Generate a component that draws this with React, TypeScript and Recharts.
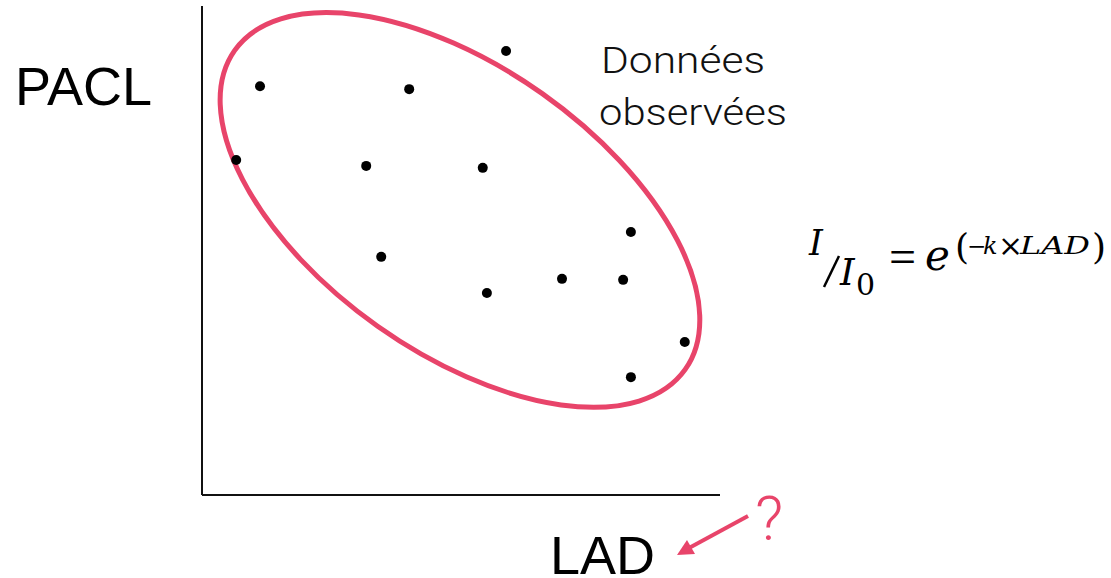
import React from 'react';
import { ScatterChart, Scatter, XAxis, YAxis, ReferenceDot, ReferenceLine } from 'recharts';

// observed points (LAD on x, PACL on y), arbitrary 0-100 units
const ladValues = [11.2, 40.0, 58.7, 6.6, 31.7, 54.2, 82.8, 34.6, 55.0, 69.5, 81.3, 93.2, 82.8];
const paclValues = [83.6, 83.0, 90.8, 68.5, 67.3, 66.9, 53.8, 48.7, 41.3, 44.2, 44.0, 31.3, 24.1];

// centre of the ellipse around the observed cloud
const cloudCenter = { x: 49.8, y: 58.3 };

const PINK = '#e8446a';
const MATH = 'DejaVu Serif, serif';

const points = ladValues.map((x, i) => ({ x, y: paclValues[i] }));

const Dot = (props: any) => <circle cx={props.cx} cy={props.cy} r={5} fill="#000" />;

const CloudEllipse = (props: any) => (
  <ellipse
    cx={props.cx}
    cy={props.cy}
    rx={276}
    ry={142.5}
    fill="none"
    stroke={PINK}
    strokeWidth={5}
    transform={`rotate(35.3 ${props.cx} ${props.cy})`}
  />
);

export default function App() {
  return (
    <div style={{ position: 'absolute', left: 0, top: 0, width: 1111, height: 578, background: '#fff' }}>
      <ScatterChart width={1111} height={578} margin={{ top: 6, right: 391, bottom: 83, left: 202 }}>
        <XAxis type="number" dataKey="x" domain={[0, 100]} hide />
        <YAxis type="number" dataKey="y" domain={[0, 100]} hide />
        {/* axis lines only, no ticks */}
        <ReferenceLine x={0} stroke="#111" strokeWidth={2} />
        <ReferenceLine y={0} stroke="#111" strokeWidth={2} />
        <ReferenceDot x={cloudCenter.x} y={cloudCenter.y} shape={CloudEllipse} ifOverflow="visible" />
        <Scatter data={points} shape={Dot} isAnimationActive={false} />
      </ScatterChart>

      <svg width={1111} height={578} style={{ position: 'absolute', left: 0, top: 0, pointerEvents: 'none' }}>
        <text x={15} y={105} fontFamily="Liberation Sans, Arial" fontSize={54} fill="#000">PACL</text>
        <text x={550} y={574} fontFamily="Liberation Sans, Arial" fontSize={54} fill="#000">LAD</text>

        <g fontFamily="Roboto" fontWeight={300} fontSize={36} fill="#111">
          <text x={601} y={73} textLength={164} lengthAdjust="spacingAndGlyphs">Données</text>
          <text x={599} y={125} textLength={188} lengthAdjust="spacingAndGlyphs">observées</text>
        </g>

        {/* I / I0 = e^(−k×LAD) */}
        <g fontFamily={MATH} fill="#000">
          <text x={809} y={255} fontSize={35} fontStyle="italic">I</text>
          <line x1={824} y1={287} x2={839} y2={256} stroke="#000" strokeWidth={2.5} />
          <text x={840} y={285} fontSize={37} fontStyle="italic">I</text>
          <text x={856} y={295} fontSize={30}>0</text>
          <text x={889} y={273} fontSize={48} fontFamily="Liberation Serif, serif">=</text>
          <text x={925} y={270} fontSize={42} fontStyle="italic">e</text>
          <text y={254} fontSize={24}>
            <tspan x={955} y={259} fontSize={36}>(</tspan>
            <tspan x={967} y={254} fontSize={23}>−</tspan>
            <tspan x={983} fontStyle="italic">k</tspan>
            <tspan x={998} y={256} fontSize={30}>×</tspan>
            <tspan x={1020} y={254} fontSize={25} fontStyle="italic" textLength={70} lengthAdjust="spacingAndGlyphs">LAD</tspan>
            <tspan x={1092} y={259} fontSize={36}>)</tspan>
          </text>
        </g>

        <text x={755} y={540} fontFamily="Roboto" fontWeight={300} fontSize={62} fill={PINK}>?</text>
        <line x1={748} y1={516} x2={689} y2={548} stroke={PINK} strokeWidth={4} />
        <polygon points="677,555 695,554 687,540" fill={PINK} />
      </svg>
    </div>
  );
}
